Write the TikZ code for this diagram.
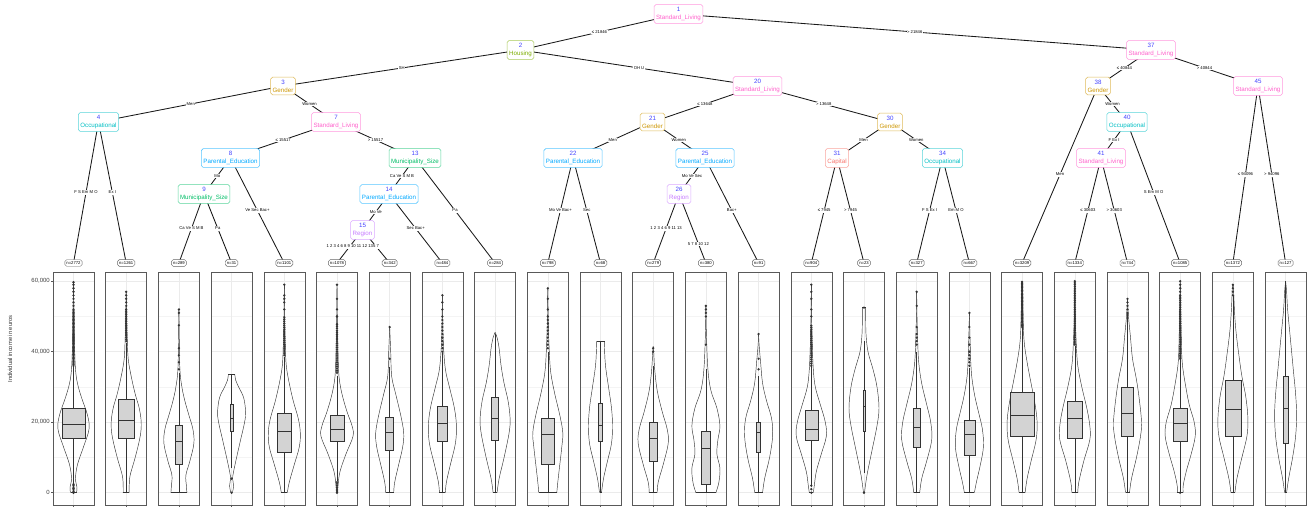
\documentclass[tikz,border=0pt]{standalone}
\usepackage{fontspec}
\setmainfont{Liberation Sans}
\usetikzlibrary{calc}
\definecolor{cCap}{HTML}{F8766D}
\definecolor{cGen}{HTML}{CD9600}
\definecolor{cHou}{HTML}{7CAE00}
\definecolor{cMun}{HTML}{00BE67}
\definecolor{cOcc}{HTML}{00BFC4}
\definecolor{cPar}{HTML}{00A9FF}
\definecolor{cReg}{HTML}{C77CFF}
\definecolor{cSL}{HTML}{FF61CC}
\definecolor{numblue}{HTML}{4444FF}
\definecolor{dk}{HTML}{333333}
\definecolor{gmaj}{HTML}{EBEBEB}
\definecolor{gmin}{HTML}{F4F4F4}
\definecolor{boxfill}{HTML}{D3D3D3}
\pgfdeclarelayer{bg}
\pgfsetlayers{bg,main}
\newcommand{\nnum}[1]{{\color{numblue}#1}\\}
\newcommand{\panelframe}[1]{%
\begin{scope}[xshift=#1pt, yshift=-492.7pt, x=1pt, y=3.525pt]
  \foreach \g in {10,30,50} \draw[gridminor] (-20.5,\g) -- (20.5,\g);
  \foreach \g in {0,20,40,60} \draw[gridmajor] (-20.5,\g) -- (20.5,\g);
  \draw[gridmajor] (0,-3.5) -- (0,62.6);
  \draw[frame] (-20.5,-3.5) rectangle (20.5,62.6);
  \draw[frame] (0,-3.5) -- (0,-4.1);
\end{scope}}
\newcommand{\violin}[5]{%
\begin{scope}[xshift=#1pt, yshift=-492.7pt, x=1pt, y=3.525pt]
  \draw[vio] plot[smooth, tension=0.6] coordinates {#5};
  \draw[vio, xscale=-1] plot[smooth, tension=0.6] coordinates {#5};
  \draw[vio] (-#2,0) -- (#2,0);
  \draw[vio] (-#3,#4) -- (#3,#4);
\end{scope}}
\newcommand{\bxp}[7]{%
\begin{scope}[xshift=#1pt, yshift=-492.7pt, x=1pt, y=3.525pt]
  \pgfmathsetmacro\hw{0.2155*sqrt(#2)}
  \draw[whisk] (0,#3) -- (0,#4);
  \draw[whisk] (0,#6) -- (0,#7);
  \draw[boxst] (-\hw,#4) rectangle (\hw,#6);
  \draw[medst] (-\hw,#5) -- (\hw,#5);
\end{scope}}
\newcommand{\outl}[2]{%
\begin{scope}[xshift=#1pt, yshift=-492.7pt, x=1pt, y=3.525pt]
  \foreach \v in {#2} \fill[dk] (0,\v) circle (1.3pt);
\end{scope}}
\tikzset{
  tnode/.style={draw=#1!65, text=#1, rounded corners=1.8pt, fill=white, inner xsep=2pt, inner ysep=2.6pt,
    align=center, font=\fontsize{6.2}{8}\selectfont, line width=0.55pt},
  elab/.style={fill=white, inner sep=0.6pt, font=\fontsize{4.2}{4.5}\selectfont, text=black},
  leaflab/.style={draw=black!60, rounded corners=1.8pt, fill=white, inner xsep=1.6pt, inner ysep=1.8pt,
    font=\fontsize{4.2}{4.5}\selectfont, line width=0.45pt},
  edge/.style={draw=black!90, line width=0.85pt},
  gridmajor/.style={draw=gmaj, line width=0.5pt},
  gridminor/.style={draw=gmin, line width=0.35pt},
  frame/.style={draw=black!65, line width=0.6pt},
  vio/.style={draw=dk, line width=0.45pt},
  whisk/.style={draw=dk, line width=0.55pt},
  boxst/.style={draw=dk, fill=boxfill, line width=0.5pt},
  medst/.style={draw=dk, line width=1pt},
  axlab/.style={font=\fontsize{6}{7}\selectfont, text=black!75, anchor=east, inner sep=0pt},
}
\begin{document}
\begin{tikzpicture}[x=1pt,y=-1pt]
\useasboundingbox (0,0) rectangle (1307,507);
% ---------- tree nodes ----------
\node[tnode=cSL] (n1) at (678.5,14) {\nnum{1}Standard\_Living};
\node[tnode=cHou] (n2) at (520.5,50) {\nnum{2}Housing};
\node[tnode=cSL] (n37) at (1151,50) {\nnum{37}Standard\_Living};
\node[tnode=cGen] (n3) at (283,86) {\nnum{3}Gender};
\node[tnode=cSL] (n20) at (757.5,86) {\nnum{20}Standard\_Living};
\node[tnode=cGen] (n38) at (1098,86) {\nnum{38}Gender};
\node[tnode=cSL] (n45) at (1258,86) {\nnum{45}Standard\_Living};
\node[tnode=cOcc] (n4) at (98.5,122) {\nnum{4}Occupational};
\node[tnode=cSL] (n7) at (336,122) {\nnum{7}Standard\_Living};
\node[tnode=cGen] (n21) at (652.5,122) {\nnum{21}Gender};
\node[tnode=cGen] (n30) at (890,122) {\nnum{30}Gender};
\node[tnode=cOcc] (n40) at (1127,122) {\nnum{40}Occupational};
\node[tnode=cPar] (n8) at (230.5,158) {\nnum{8}Parental\_Education};
\node[tnode=cMun] (n13) at (415,158) {\nnum{13}Municipality\_Size};
\node[tnode=cPar] (n22) at (573,158) {\nnum{22}Parental\_Education};
\node[tnode=cPar] (n25) at (705,158) {\nnum{25}Parental\_Education};
\node[tnode=cCap] (n31) at (837,158) {\nnum{31}Capital};
\node[tnode=cOcc] (n34) at (942.5,158) {\nnum{34}Occupational};
\node[tnode=cSL] (n41) at (1101,158) {\nnum{41}Standard\_Living};
\node[tnode=cMun] (n9) at (204,194) {\nnum{9}Municipality\_Size};
\node[tnode=cPar] (n14) at (389,194) {\nnum{14}Parental\_Education};
\node[tnode=cReg] (n26) at (679,194) {\nnum{26}Region};
\node[tnode=cReg] (n15) at (362.5,230) {\nnum{15}Region};
% ---------- leaf labels ----------
\foreach \i/\n in {0/2772,1/1261,2/289,3/31,4/1101,5/1078,6/342,7/484,8/284,9/798,10/68,11/279,12/380,13/91,14/904,15/23,16/327,17/667,18/3209,19/1334,20/744,21/1085,22/1372,23/127}
  \node[leaflab] (l\i) at ({73.5+52.7*\i},263) {n=\n};
% ---------- edges ----------
\begin{pgfonlayer}{bg}
\draw[edge] (n1.center) -- node[elab]{≤ 21846} (n2.center);
\draw[edge] (n1.center) -- node[elab]{> 21846} (n37.center);
\draw[edge] (n2.center) -- node[elab]{SH} (n3.center);
\draw[edge] (n2.center) -- node[elab]{OH U} (n20.center);
\draw[edge] (n3.center) -- node[elab]{Men} (n4.center);
\draw[edge] (n3.center) -- node[elab]{Women} (n7.center);
\draw[edge] (n4.center) -- node[elab]{F S Em M O} (l0.center);
\draw[edge] (n4.center) -- node[elab]{Ex I} (l1.center);
\draw[edge] (n7.center) -- node[elab]{≤ 15517} (n8.center);
\draw[edge] (n7.center) -- node[elab]{> 15517} (n13.center);
\draw[edge] (n8.center) -- node[elab]{Mo} (n9.center);
\draw[edge] (n8.center) -- node[elab]{Ve Sec Bac+} (l4.center);
\draw[edge] (n9.center) -- node[elab]{Ca Ve S M B} (l2.center);
\draw[edge] (n9.center) -- node[elab]{Pa} (l3.center);
\draw[edge] (n13.center) -- node[elab]{Ca Ve S M B} (n14.center);
\draw[edge] (n13.center) -- node[elab]{Pa} (l8.center);
\draw[edge] (n14.center) -- node[elab]{Mo Ve} (n15.center);
\draw[edge] (n14.center) -- node[elab]{Sec Bac+} (l7.center);
\draw[edge] (n15.center) -- node[elab]{1 2 3 4 6 8 9 10 11 12 13} (l5.center);
\draw[edge] (n15.center) -- node[elab]{5 7} (l6.center);
\draw[edge] (n20.center) -- node[elab]{≤ 13648} (n21.center);
\draw[edge] (n20.center) -- node[elab]{> 13648} (n30.center);
\draw[edge] (n21.center) -- node[elab]{Men} (n22.center);
\draw[edge] (n21.center) -- node[elab]{Women} (n25.center);
\draw[edge] (n22.center) -- node[elab]{Mo Ve Bac+} (l9.center);
\draw[edge] (n22.center) -- node[elab]{Sec} (l10.center);
\draw[edge] (n25.center) -- node[elab]{Mo Ve Sec} (n26.center);
\draw[edge] (n25.center) -- node[elab]{Bac+} (l13.center);
\draw[edge] (n26.center) -- node[elab]{1 2 3 4 6 9 11 13} (l11.center);
\draw[edge] (n26.center) -- node[elab,pos=0.72]{5 7 8 10 12} (l12.center);
\draw[edge] (n30.center) -- node[elab]{Men} (n31.center);
\draw[edge] (n30.center) -- node[elab]{Women} (n34.center);
\draw[edge] (n31.center) -- node[elab]{≤ 7945} (l14.center);
\draw[edge] (n31.center) -- node[elab]{> 7945} (l15.center);
\draw[edge] (n34.center) -- node[elab]{F S Ex I} (l16.center);
\draw[edge] (n34.center) -- node[elab]{Em M O} (l17.center);
\draw[edge] (n37.center) -- node[elab]{≤ 40844} (n38.center);
\draw[edge] (n37.center) -- node[elab]{> 40844} (n45.center);
\draw[edge] (n38.center) -- node[elab]{Men} (l18.center);
\draw[edge] (n38.center) -- node[elab]{Women} (n40.center);
\draw[edge] (n40.center) -- node[elab]{F Ex I} (n41.center);
\draw[edge] (n40.center) -- node[elab]{S Em M O} (l21.center);
\draw[edge] (n41.center) -- node[elab]{≤ 30603} (l19.center);
\draw[edge] (n41.center) -- node[elab]{> 30603} (l20.center);
\draw[edge] (n45.center) -- node[elab]{≤ 94096} (l22.center);
\draw[edge] (n45.center) -- node[elab]{> 94096} (l23.center);
\end{pgfonlayer}
% ---------- axis ----------
\node[rotate=90, font=\fontsize{5.8}{7}\selectfont, text=black!80] (ytitle) at (10,349) {Individual income in euros};
\node[axlab] (t60) at (50,281.2) {60,000};
\node[axlab] (t40) at (50,351.7) {40,000};
\node[axlab] (t20) at (50,422.2) {20,000};
\node[axlab] (t0) at (50,492.7) {0};
\foreach \yy in {281.2,351.7,422.2,492.7} \draw[frame] (51,\yy) -- (53,\yy);
% ---------- panels ----------
\foreach \i in {0,...,23} {\pgfmathsetmacro\cx{73.5+52.7*\i}\panelframe{\cx}}
% panel 0
\violin{73.5}{3}{0}{60}{(3,0) (3.5,1.5) (2,4) (4,8) (10,13) (15.5,18) (14,22) (8,27) (4,31) (2,35) (1,42) (0.5,50) (0,60)}
\bxp{73.5}{2772}{2.75}{15.5}{19.3}{24}{36}
\outl{73.5}{36,36.4,...,52,53,54,55,56,57,58,59,59.7,0,0.4,...,2.5}
% panel 1
\violin{126.2}{3}{0}{57}{(3,0) (3,2) (4,5) (9,10) (14,16) (15,20) (13,24) (9,28) (5,33) (2,38) (1,44) (0.4,50) (0,57)}
\bxp{126.2}{1261}{0}{15.5}{20.5}{26.5}{42.5}
\outl{126.2}{43,43.5,...,52,53,54,55,56,57}
% panel 2
\violin{178.9}{8}{0}{52}{(8,0) (7.5,2) (7,5) (11,9) (15,14) (14,18) (10,22) (6,26) (3,30) (1,35) (0.3,45) (0,52)}
\bxp{178.9}{289}{0}{8}{14.5}{19}{34}
\outl{178.9}{35,37,39,41,47.5,51,52}
% panel 3
\violin{231.6}{0.8}{3.3}{33.5}{(0.8,0) (2,2) (1,4) (2,6) (5,10) (9,15) (13,20) (14,23) (12,27) (7,30) (4,32) (3.3,33.5)}
\bxp{231.6}{31}{7}{17.5}{21}{25}{33.5}
\outl{231.6}{4,0}
% panel 4
\violin{284.3}{3}{0}{59}{(3,0) (5,3) (10,8) (15,13) (16,17) (14,21) (9,26) (5,31) (2,36) (1,42) (0.3,50) (0,59)}
\bxp{284.3}{1101}{0}{11.5}{17.5}{22.5}{38.5}
\outl{284.3}{39,39.6,...,50,52,54,55,56,59}
% panel 5
\violin{337.0}{0.5}{0}{59}{(0.5,0) (1,2) (3,6) (9,11) (16,16) (15,19) (10,23) (5,28) (2,33) (1,40) (0.3,50) (0,59)}
\bxp{337.0}{1078}{3.25}{14.5}{18}{22}{33.25}
\outl{337.0}{34,34.6,...,48,50,52,55,59,0,0.5,...,3}
% panel 6
\violin{389.7}{4}{0}{47}{(4,0) (5,3) (9,8) (13,13) (14,17) (11,22) (6,28) (2,33) (1,40) (0,47)}
\bxp{389.7}{342}{0}{12}{17}{21.5}{35.75}
\outl{389.7}{38,47}
% panel 7
\violin{442.4}{3}{0}{56}{(3,0) (4,3) (8,8) (13,14) (14,19) (12,24) (7,30) (3,35) (1,42) (0.3,50) (0,56)}
\bxp{442.4}{484}{0}{14.5}{19.5}{24.5}{39.5}
\outl{442.4}{40,41,...,50,52,54,56}
% panel 8
\violin{495.1}{2}{0}{45.5}{(2,0) (4,4) (9,10) (14,17) (15,21) (13,26) (9,31) (6,36) (4,41) (2,44) (0,45.5)}
\bxp{495.1}{284}{0}{15}{21}{27}{45}
% panel 9
\violin{547.8}{9}{0}{58}{(9,0) (10,3) (12,8) (14,13) (15,17) (12,22) (7,28) (3,34) (1.5,40) (0.5,48) (0,58)}
\bxp{547.8}{798}{0}{8}{16.5}{21}{40}
\outl{547.8}{41,42,...,50,52,55,58}
% panel 10
\violin{600.5}{1}{4}{43}{(1,0) (3,4) (7,9) (11,14) (12,19) (11,24) (8,30) (5,36) (4,41) (4,43)}
\bxp{600.5}{68}{0}{14.5}{19}{25.5}{43}
% panel 11
\violin{653.2}{4}{0}{41.5}{(4,0) (5,3) (10,8) (15,14) (14,18) (9,23) (4,29) (1.5,35) (0.5,40) (0,41.5)}
\bxp{653.2}{279}{0}{9}{15.5}{20}{36}
\outl{653.2}{40,41}
% panel 12
\violin{705.9}{10}{0}{53}{(10,0) (13,3) (14,7) (11,11) (12,15) (14,19) (11,24) (5,29) (2,35) (0.5,45) (0,53)}
\bxp{705.9}{380}{0}{2.5}{12.5}{17.5}{35}
\outl{705.9}{42,50,51,52,53}
% panel 13
\violin{758.6}{4}{0}{45}{(4,0) (6,4) (11,10) (14,16) (13,21) (8,26) (4,31) (2,37) (0.5,42) (0,45)}
\bxp{758.6}{91}{0}{11.5}{17}{20}{33}
\outl{758.6}{35,38,45}
% panel 14
\violin{811.3}{2}{0}{59}{(2,0) (3,2) (5,6) (10,11) (15,16) (14,20) (9,25) (4,30) (2,35) (1,42) (0.3,50) (0,59)}
\bxp{811.3}{904}{2.25}{15}{18}{23.5}{36}
\outl{811.3}{36,36.6,...,48,50,52,55,57,59,0,1,2}
% panel 15
\violin{864.0}{0.5}{1.7}{52.5}{(0.5,0) (3,5) (8,12) (13,19) (15,24) (13,30) (9,35) (4,40) (2,45) (1.7,50) (1.7,52.5)}
\bxp{864.0}{23}{5.5}{17.5}{24.5}{29}{43}
\outl{864.0}{0,52.5}
% panel 16
\violin{916.7}{3}{0}{57}{(3,0) (5,4) (10,9) (15,15) (14,20) (10,25) (5,31) (2,37) (1,43) (0.3,50) (0,57)}
\bxp{916.7}{327}{0}{13}{18.5}{24}{40}
\outl{916.7}{42,43,44,45,47,53,57}
% panel 17
\violin{969.4}{5}{0}{51}{(5,0) (7,3) (11,8) (14,13) (13,18) (9,23) (5,28) (2,34) (0.8,42) (0,51)}
\bxp{969.4}{667}{0}{10.5}{16.5}{20.5}{35.5}
\outl{969.4}{36,37,38,39,40,42,44,47,51}
% panel 18
\violin{1022.1}{3}{0}{60}{(3,0) (5,4) (9,9) (14,15) (15,20) (13,25) (9,31) (5,37) (2,43) (1,50) (0.5,60)}
\bxp{1022.1}{3209}{0}{16}{22}{28.5}{47}
\outl{1022.1}{47,47.4,...,60}
% panel 19
\violin{1074.8}{3}{0}{60}{(3,0) (4,3) (9,9) (15,15) (15,19) (12,24) (7,30) (3,36) (1.5,42) (0.5,50) (0,60)}
\bxp{1074.8}{1334}{0}{15.5}{21}{26}{41.75}
\outl{1074.8}{42,42.5,...,60}
% panel 20
\violin{1127.5}{2}{0}{55}{(2,0) (4,4) (9,10) (13,16) (14,20) (12,26) (9,32) (5,38) (3,44) (1,50) (0,55)}
\bxp{1127.5}{744}{0}{16}{22.5}{30}{51}
\outl{1127.5}{51,52,53,54,55}
% panel 21
\violin{1180.2}{3}{0}{60}{(3,0) (3,2) (6,6) (11,11) (15,16) (14,20) (9,25) (5,31) (2,37) (1,45) (0,60)}
\bxp{1180.2}{1085}{0.25}{14.5}{19.5}{24}{38}
\outl{1180.2}{38,38.5,...,56,57,58,59,60,0}
% panel 22
\violin{1232.9}{2}{0}{59}{(2,0) (4,4) (9,10) (14,16) (15,21) (13,27) (9,33) (6,39) (3,46) (1.5,52) (0.5,59)}
\bxp{1232.9}{1372}{0}{16}{23.5}{32}{56}
\outl{1232.9}{56,57,58,59}
% panel 23
\violin{1285.6}{1}{0}{60}{(1,0) (3,4) (7,10) (10,16) (11,22) (10,28) (8,34) (6,40) (4,46) (2,52) (1,57) (0,60)}
\bxp{1285.6}{127}{0}{14}{24}{33}{60}
\end{tikzpicture}
\end{document}
